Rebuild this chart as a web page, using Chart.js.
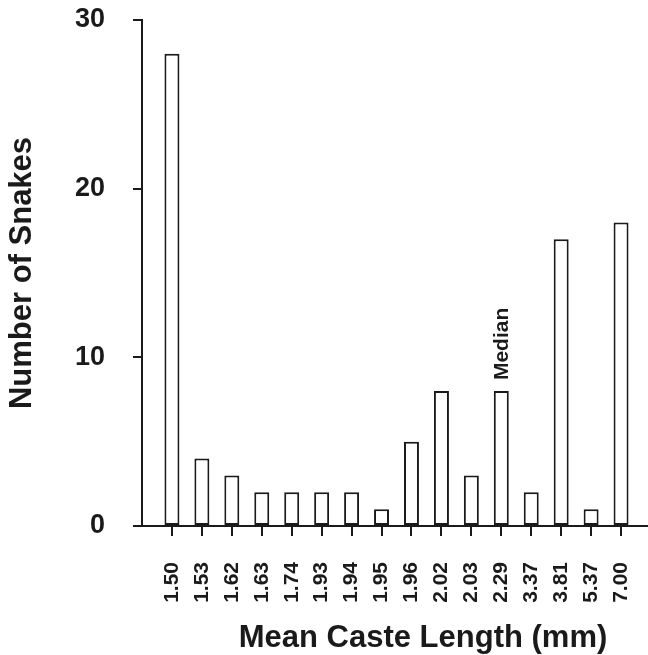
<!DOCTYPE html>
<html>
<head>
<meta charset="utf-8">
<script src="https://cdn.jsdelivr.net/npm/chart.js@4"></script>
<style>
  body { margin: 0; background: #fff; }
  #wrap { width: 648px; height: 655px; }
</style>
</head>
<body>
<div id="wrap"><canvas id="grafico"></canvas></div>
<script>
const casteLengths = ["1.50", "1.53", "1.62", "1.63", "1.74", "1.93", "1.94", "1.95",
  "1.96", "2.02", "2.03", "2.29", "3.37", "3.81", "5.37", "7.00"];
const snakeCounts = [28, 4, 3, 2, 2, 2, 2, 1, 5, 8, 3, 8, 2, 17, 1, 18];
const yTicks = [0, 10, 20, 30];
const medianLabel = "Median";
const medianIndex = casteLengths.indexOf("2.29");
const xTitle = "Mean Caste Length (mm)";
const yTitle = "Number of Snakes";

const ink = "#1a1a1a";
const fontFam = "'Liberation Sans', Arial, Helvetica, sans-serif";

// texto extra: "Median" sobre la barra y titulo del eje x
const extraText = {
  id: "extraText",
  afterDraw(chart) {
    const ctx = chart.ctx;
    const x = chart.scales.x;
    const y = chart.scales.y;
    ctx.save();
    ctx.fillStyle = ink;
    const px = x.getPixelForValue(medianIndex);
    const py = y.getPixelForValue(snakeCounts[medianIndex]);
    ctx.translate(px + 1, py - 11);
    ctx.rotate(-Math.PI / 2);
    ctx.font = "bold 21px " + fontFam;
    ctx.textAlign = "left";
    ctx.textBaseline = "middle";
    ctx.fillText(medianLabel, 0, 0);
    ctx.restore();

    ctx.save();
    ctx.fillStyle = ink;
    ctx.font = "bold 31px " + fontFam;
    ctx.textAlign = "center";
    ctx.textBaseline = "middle";
    ctx.fillText(xTitle, (x.left + x.right) / 2 + 28, chart.height - 17);
    ctx.restore();
  }
};

const canvas = document.getElementById("grafico");

new Chart(canvas, {
  type: "bar",
  data: {
    datasets: [{
      data: snakeCounts.map((v, i) => ({ x: i, y: v })),
      backgroundColor: "#ffffff",
      borderColor: ink,
      borderWidth: 2,
      borderSkipped: false,
      categoryPercentage: 1,
      barPercentage: 0.5
    }]
  },
  options: {
    responsive: true,
    maintainAspectRatio: false,
    animation: false,
    layout: { padding: { top: 20, right: 0, bottom: 0, left: 0 } },
    plugins: {
      legend: { display: false },
      tooltip: { enabled: false }
    },
    scales: {
      x: {
        type: "linear",
        offset: false,
        min: -1,
        max: 15.9,
        afterBuildTicks: (scale) => {
          scale.ticks = casteLengths.map((c, i) => ({ value: i }));
        },
        afterFit: (scale) => {
          scale.height = 129;
          scale.paddingLeft = 0;
          scale.paddingRight = 0;
        },
        grid: {
          offset: false,
          drawOnChartArea: false,
          drawTicks: true,
          tickLength: 10,
          color: ink,
          lineWidth: 2
        },
        border: { display: true, color: ink, width: 2 },
        ticks: {
          autoSkip: false,
          minRotation: 90,
          maxRotation: 90,
          padding: 26,
          color: ink,
          font: { family: fontFam, size: 21, weight: "bold" },
          callback: (v) => casteLengths[v]
        }
      },
      y: {
        min: 0,
        max: 30,
        afterBuildTicks: (scale) => {
          scale.ticks = yTicks.map(v => ({ value: v }));
        },
        afterFit: (scale) => {
          scale.width = 142;
          scale.paddingTop = 0;
          scale.paddingBottom = 0;
        },
        grid: {
          drawOnChartArea: false,
          drawTicks: true,
          tickLength: 9,
          color: ink,
          lineWidth: 2
        },
        border: { display: true, color: ink, width: 2 },
        ticks: {
          padding: 28,
          color: ink,
          font: { family: fontFam, size: 27, weight: "bold" }
        },
        title: {
          display: true,
          text: yTitle,
          color: ink,
          padding: { top: 4, bottom: 0 },
          font: { family: fontFam, size: 31, weight: "bold" }
        }
      }
    }
  },
  plugins: [extraText]
});
</script>
</body>
</html>
